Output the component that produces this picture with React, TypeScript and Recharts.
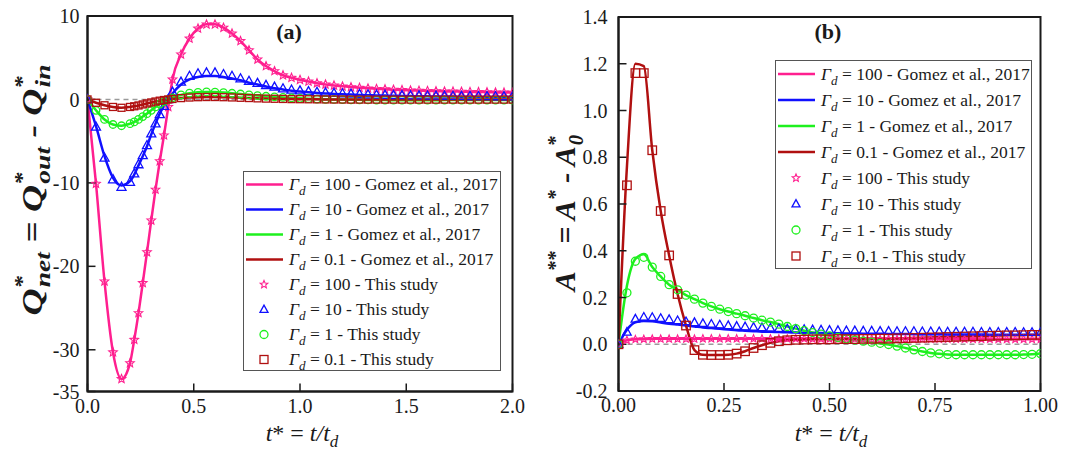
import {
  ComposedChart,
  Line,
  Scatter,
  XAxis,
  YAxis,
  ReferenceLine,
  ReferenceArea,
  Legend,
  Customized,
} from "recharts";

const SERIF = "'Liberation Serif', 'Times New Roman', Times, serif";
const INK = "#1a1a1a";

const PINK = "#ff1f8f";
const BLUE = "#1010ff";
const GREEN = "#1ef01e";
const DARK_RED = "#b01010";

// ---- panel (a): Q*_net against t* ----
const T_A = [
  0, 0.04, 0.08, 0.12, 0.16, 0.2, 0.22, 0.24, 0.26, 0.28, 0.3, 0.32, 0.34, 0.36, 0.38, 0.4,
  0.44, 0.48, 0.52, 0.56, 0.6, 0.64, 0.68, 0.72, 0.76, 0.8, 0.84, 0.88, 0.92, 0.96, 1.0,
  1.04, 1.08, 1.12, 1.16, 1.2, 1.24, 1.28, 1.32, 1.36, 1.4, 1.44, 1.48, 1.52, 1.56, 1.6,
  1.64, 1.68, 1.72, 1.76, 1.8, 1.84, 1.88, 1.92, 1.96, 2.0,
];
// Gomez et al. curves
const Q_G100 = [
  0, -10.1, -21.8, -30.3, -33.5, -31.6, -28.8, -25.6, -22.0, -18.3, -14.5, -10.8, -7.4, -4.3, -0.9, 2.4,
  5.4, 7.3, 8.5, 9.0, 9.0, 8.6, 7.9, 7.0, 5.9, 4.8, 4.0, 3.4, 2.9, 2.6, 2.35,
  2.15, 1.95, 1.8, 1.68, 1.57, 1.48, 1.4, 1.33, 1.27, 1.22, 1.17, 1.13, 1.09, 1.06, 1.03,
  1.0, 0.97, 0.95, 0.93, 0.91, 0.89, 0.87, 0.85, 0.83, 0.82,
];
const Q_G10 = [
  0, -3.2, -6.8, -9.4, -10.3, -9.8, -9.0, -7.9, -6.8, -5.6, -4.2, -2.9, -1.7, -0.8, -0.1, 0.7,
  1.8, 2.4, 2.7, 2.8, 2.8, 2.7, 2.5, 2.3, 2.0, 1.8, 1.55, 1.35, 1.2, 1.05, 0.95,
  0.85, 0.78, 0.72, 0.66, 0.62, 0.58, 0.54, 0.51, 0.48, 0.46, 0.44, 0.42, 0.4, 0.39, 0.37,
  0.36, 0.35, 0.34, 0.33, 0.32, 0.31, 0.3, 0.3, 0.29, 0.28,
];
const Q_G1 = [
  0, -1.3, -2.4, -3.0, -3.15, -2.9, -2.7, -2.4, -2.05, -1.7, -1.3, -0.9, -0.55, -0.25, -0.03, 0.2,
  0.55, 0.75, 0.85, 0.9, 0.88, 0.82, 0.74, 0.65, 0.55, 0.46, 0.38, 0.31, 0.24, 0.18, 0.13,
  0.09, 0.05, 0.02, 0.0, -0.02, -0.04, -0.05, -0.06, -0.07, -0.08, -0.09, -0.09, -0.09, -0.09, -0.09,
  -0.09, -0.08, -0.08, -0.08, -0.08, -0.08, -0.08, -0.08, -0.07, -0.07,
];
const Q_G01 = [
  0, -0.4, -0.7, -0.9, -1.0, -0.9, -0.82, -0.72, -0.6, -0.48, -0.36, -0.25, -0.15, -0.07, 0.0, 0.06,
  0.16, 0.23, 0.27, 0.29, 0.29, 0.27, 0.24, 0.2, 0.17, 0.13, 0.1, 0.08, 0.06, 0.04, 0.03,
  0.02, 0.01, 0.0, -0.01, -0.01, -0.02, -0.02, -0.02, -0.02, -0.02, -0.02, -0.02, -0.02, -0.02, -0.02,
  -0.02, -0.02, -0.02, -0.02, -0.02, -0.02, -0.02, -0.02, -0.02, -0.02,
];
// this study (only Γd = 10 departs visibly from the reference curve)
const Q_S10 = [
  0, -3.3, -7.0, -9.6, -10.5, -9.9, -8.9, -7.8, -6.7, -5.5, -4.1, -2.9, -1.8, -0.8, 0.0, 0.9,
  2.1, 2.8, 3.1, 3.2, 3.2, 3.0, 2.8, 2.5, 2.2, 1.95, 1.7, 1.5, 1.3, 1.15, 1.05,
  0.95, 0.88, 0.8, 0.75, 0.7, 0.66, 0.62, 0.58, 0.55, 0.53, 0.5, 0.48, 0.46, 0.45, 0.43,
  0.42, 0.41, 0.4, 0.39, 0.38, 0.37, 0.36, 0.35, 0.35, 0.34,
];

// ---- panel (b): A** against t* ----
const T_B = [
  0, 0.02, 0.04, 0.06, 0.08, 0.1, 0.12, 0.14, 0.16, 0.18, 0.2, 0.22, 0.24, 0.26, 0.28, 0.3,
  0.32, 0.34, 0.36, 0.38, 0.4, 0.42, 0.44, 0.46, 0.48, 0.5, 0.52, 0.54, 0.56, 0.58, 0.6,
  0.62, 0.64, 0.66, 0.68, 0.7, 0.72, 0.74, 0.76, 0.78, 0.8, 0.82, 0.84, 0.86, 0.88, 0.9,
  0.92, 0.94, 0.96, 0.98, 1.0,
];
const A_G100 = [
  0, 0.017, 0.021, 0.022, 0.023, 0.023, 0.023, 0.023, 0.023, 0.023, 0.024, 0.024, 0.024, 0.024, 0.024, 0.024,
  0.024, 0.024, 0.024, 0.024, 0.024, 0.024, 0.024, 0.023, 0.023, 0.023, 0.023, 0.023, 0.023, 0.023, 0.023,
  0.022, 0.022, 0.022, 0.022, 0.022, 0.022, 0.022, 0.022, 0.022, 0.022, 0.022, 0.022, 0.022, 0.022, 0.021,
  0.021, 0.021, 0.021, 0.021, 0.021,
];
const A_G10 = [
  0, 0.062, 0.094, 0.1, 0.098, 0.093, 0.088, 0.084, 0.08, 0.076, 0.072, 0.069, 0.066, 0.063, 0.06, 0.058,
  0.056, 0.054, 0.053, 0.052, 0.051, 0.05, 0.049, 0.048, 0.048, 0.047, 0.047, 0.046, 0.046, 0.045, 0.045,
  0.045, 0.044, 0.044, 0.044, 0.043, 0.043, 0.043, 0.043, 0.042, 0.042, 0.042, 0.042, 0.042, 0.041, 0.041,
  0.041, 0.041, 0.041, 0.041, 0.041,
];
const A_G1 = [
  0, 0.25, 0.365, 0.385, 0.33, 0.29, 0.255, 0.233, 0.21, 0.193, 0.176, 0.162, 0.15, 0.14, 0.131, 0.122,
  0.112, 0.103, 0.095, 0.086, 0.076, 0.067, 0.058, 0.05, 0.043, 0.036, 0.029, 0.023, 0.018, 0.013, 0.009,
  0.004, -0.001, -0.008, -0.016, -0.024, -0.031, -0.037, -0.041, -0.044, -0.045, -0.045, -0.045, -0.045, -0.045, -0.045,
  -0.045, -0.045, -0.044, -0.043, -0.04,
];
const A_G01 = [
  0, 0.76, 1.2, 1.19, 0.83, 0.57, 0.38, 0.215, 0.08, -0.025, -0.045, -0.046, -0.046, -0.045, -0.04, -0.03,
  -0.016, -0.004, 0.006, 0.013, 0.017, 0.019, 0.02, 0.021, 0.021, 0.021, 0.022, 0.022, 0.022, 0.023, 0.023,
  0.024, 0.024, 0.025, 0.026, 0.027, 0.028, 0.029, 0.03, 0.031, 0.032, 0.033, 0.034, 0.035, 0.036, 0.037,
  0.038, 0.038, 0.039, 0.04, 0.04,
];
const A_S10 = [
  0, 0.052, 0.108, 0.116, 0.115, 0.111, 0.106, 0.101, 0.097, 0.093, 0.089, 0.086, 0.083, 0.08, 0.077, 0.075,
  0.073, 0.071, 0.069, 0.067, 0.066, 0.064, 0.063, 0.062, 0.061, 0.06, 0.059, 0.058, 0.058, 0.057, 0.057,
  0.056, 0.056, 0.055, 0.055, 0.055, 0.054, 0.054, 0.054, 0.053, 0.053, 0.053, 0.053, 0.052, 0.052, 0.052,
  0.052, 0.052, 0.051, 0.051, 0.051,
];
const A_S1 = [
  0, 0.22, 0.355, 0.372, 0.33, 0.29, 0.255, 0.233, 0.21, 0.193, 0.176, 0.162, 0.15, 0.14, 0.131, 0.122,
  0.112, 0.103, 0.095, 0.086, 0.076, 0.067, 0.058, 0.05, 0.043, 0.036, 0.029, 0.023, 0.018, 0.013, 0.009,
  0.004, -0.001, -0.008, -0.016, -0.024, -0.031, -0.037, -0.041, -0.044, -0.045, -0.045, -0.045, -0.045, -0.045, -0.045,
  -0.045, -0.045, -0.044, -0.043, -0.04,
];
const A_S01 = [
  0, 0.68, 1.16, 1.16, 0.83, 0.57, 0.38, 0.215, 0.08, -0.025, -0.045, -0.046, -0.046, -0.045, -0.04, -0.03,
  -0.016, -0.004, 0.006, 0.013, 0.017, 0.019, 0.02, 0.021, 0.021, 0.021, 0.022, 0.022, 0.022, 0.023, 0.023,
  0.024, 0.024, 0.025, 0.026, 0.027, 0.028, 0.029, 0.03, 0.031, 0.032, 0.033, 0.034, 0.035, 0.036, 0.037,
  0.038, 0.038, 0.039, 0.04, 0.04,
];

const GAMMAS = ["100", "10", "1", "0.1"];
const COLORS = [PINK, BLUE, GREEN, DARK_RED];
const MARKS = ["star", "triangle", "circle", "square"] as const;
type MarkKind = (typeof MARKS)[number];

const X_TICKS_A = [0, 0.5, 1, 1.5, 2];
const Y_TICKS_A = [-35, -30, -20, -10, 0, 10];
const X_TICKS_B = [0, 0.25, 0.5, 0.75, 1];
const Y_TICKS_B = [-0.2, 0, 0.2, 0.4, 0.6, 0.8, 1.0, 1.2, 1.4];

type Pt = { t: number; v: number };
const zip = (ts: number[], vs: number[]): Pt[] => ts.map((t, i) => ({ t, v: vs[i] }));

function Marker({ kind, cx, cy, color, size }: { kind: MarkKind; cx: number; cy: number; color: string; size: number }) {
  const sw = 1.3;
  if (kind === "circle") {
    return <circle cx={cx} cy={cy} r={size / 2} fill="none" stroke={color} strokeWidth={sw} />;
  }
  if (kind === "square") {
    return <rect x={cx - size / 2} y={cy - size / 2} width={size} height={size} fill="none" stroke={color} strokeWidth={sw} />;
  }
  if (kind === "triangle") {
    const h = size * 0.9;
    const pts = `${cx},${cy - h * 0.6} ${cx - size / 2},${cy + h * 0.4} ${cx + size / 2},${cy + h * 0.4}`;
    return <polygon points={pts} fill="none" stroke={color} strokeWidth={sw} />;
  }
  // five-point star outline
  const ro = size / 2;
  const ri = ro * 0.45;
  let d = "";
  for (let k = 0; k < 10; k++) {
    const r = k % 2 === 0 ? ro : ri;
    const a = -Math.PI / 2 + (k * Math.PI) / 5;
    d += `${k === 0 ? "M" : "L"}${cx + r * Math.cos(a)},${cy + r * Math.sin(a)}`;
  }
  return <path d={d + "Z"} fill="none" stroke={color} strokeWidth={1.1} />;
}

type Series = { color: string; line: number[]; marks: number[]; kind: MarkKind; size: number };

const SERIES_A: Series[] = [
  { color: PINK, line: Q_G100, marks: Q_G100, kind: "star", size: 9 },
  { color: BLUE, line: Q_G10, marks: Q_S10, kind: "triangle", size: 9 },
  { color: GREEN, line: Q_G1, marks: Q_G1, kind: "circle", size: 7.5 },
  { color: DARK_RED, line: Q_G01, marks: Q_G01, kind: "square", size: 7 },
];

const SERIES_B: Series[] = [
  { color: PINK, line: A_G100, marks: A_G100, kind: "star", size: 8 },
  { color: BLUE, line: A_G10, marks: A_S10, kind: "triangle", size: 8.5 },
  { color: GREEN, line: A_G1, marks: A_S1, kind: "circle", size: 8 },
  { color: DARK_RED, line: A_G01, marks: A_S01, kind: "square", size: 8.5 },
];

function GammaText({ g, src }: { g: string; src: string }) {
  return (
    <span>
      <i>Γ</i>
      <sub style={{ fontStyle: "italic", fontSize: "0.75em", verticalAlign: "-0.35em", lineHeight: 0 }}>d</sub>
      {` = ${g} - ${src}`}
    </span>
  );
}

function LegendBox({ rowH }: { rowH: number }) {
  const rows = [
    ...GAMMAS.map((g, i) => ({ g, src: "Gomez et al., 2017", color: COLORS[i], kind: null as MarkKind | null })),
    ...GAMMAS.map((g, i) => ({ g, src: "This study", color: COLORS[i], kind: MARKS[i] as MarkKind | null })),
  ];
  return (
    <div
      style={{
        width: "100%",
        height: "100%",
        boxSizing: "border-box",
        border: "1px solid #555",
        background: "#fff",
        fontFamily: SERIF,
        fontSize: 17.5,
        color: INK,
      }}
    >
      {rows.map((r, i) => (
        <div key={i} style={{ display: "flex", alignItems: "center", height: rowH, whiteSpace: "nowrap" }}>
          <svg width={45} height={rowH} style={{ flex: "none" }}>
            {r.kind ? (
              <Marker kind={r.kind} cx={20} cy={rowH / 2} color={r.color} size={8} />
            ) : (
              <line x1={2} x2={39} y1={rowH / 2} y2={rowH / 2} stroke={r.color} strokeWidth={2.5} />
            )}
          </svg>
          <GammaText g={r.g} src={r.src} />
        </div>
      ))}
    </div>
  );
}

function TitlesA() {
  return (
    <g fontFamily={SERIF} fill={INK}>
      <text x={289} y={39} textAnchor="middle" fontSize={22} fontWeight="bold">(a)</text>
      <text x={302} y={441} textAnchor="middle" fontSize={24} fontStyle="italic">
        t<tspan fontStyle="normal">* = </tspan>t/t<tspan dy={6} fontSize={17}>d</tspan>
      </text>
      <text
        transform="translate(42,190) rotate(-90) scale(1.25,1)"
        textAnchor="middle"
        fontSize={30}
        fontWeight="bold"
        fontStyle="italic"
      >
        Q<tspan dy={-13} fontSize={20}>*</tspan>
        <tspan dx={-9} dy={21} fontSize={22}>net</tspan>
        <tspan dy={-8}> = Q</tspan>
        <tspan dy={-13} fontSize={20}>*</tspan>
        <tspan dx={-9} dy={21} fontSize={22}>out</tspan>
        <tspan dy={-8}> - Q</tspan>
        <tspan dy={-13} fontSize={20}>*</tspan>
        <tspan dx={-9} dy={21} fontSize={22}>in</tspan>
      </text>
    </g>
  );
}

function TitlesB() {
  return (
    <g fontFamily={SERIF} fill={INK}>
      <text x={298} y={39} textAnchor="middle" fontSize={22} fontWeight="bold">(b)</text>
      <text x={301} y={441} textAnchor="middle" fontSize={24} fontStyle="italic">
        t<tspan fontStyle="normal">* = </tspan>t/t<tspan dy={6} fontSize={17}>d</tspan>
      </text>
      <text transform="translate(45,213) rotate(-90)" textAnchor="middle" fontSize={30} fontWeight="bold" fontStyle="italic">
        A<tspan dy={-13} fontSize={20}>**</tspan>
        <tspan dy={13}> = A</tspan>
        <tspan dy={-13} fontSize={20}>*</tspan>
        <tspan dy={13}> - A</tspan>
        <tspan dy={-13} fontSize={20}>*</tspan>
        <tspan dx={-9} dy={21} fontSize={21}>0</tspan>
      </text>
    </g>
  );
}

const tickStyle = { fill: INK, fontSize: 20, fontFamily: SERIF };

function renderSeries(list: Series[], ts: number[], tag: string) {
  return list.flatMap((s, i) => [
    <Line
      key={`${tag}-l${i}`}
      data={zip(ts, s.line)}
      dataKey="v"
      type="monotone"
      stroke={s.color}
      strokeWidth={2.5}
      dot={false}
      activeDot={false}
      legendType="none"
      isAnimationActive={false}
    />,
    <Scatter
      key={`${tag}-s${i}`}
      data={zip(ts, s.marks)}
      dataKey="v"
      legendType="none"
      isAnimationActive={false}
      shape={(p: any) => <Marker kind={s.kind} cx={p.cx} cy={p.cy} color={s.color} size={s.size} />}
    />,
  ]);
}

export default function App() {
  return (
    <div style={{ position: "absolute", left: 0, top: 0, width: 1065, height: 451, background: "#fff", display: "flex" }}>
      <ComposedChart width={530} height={451} margin={{ top: 16, right: 17.5, bottom: 0, left: 27.5 }}>
        <XAxis
          dataKey="t"
          type="number"
          domain={[0, 2]}
          ticks={X_TICKS_A}
          interval={0}
          allowDataOverflow
          height={59.5}
          tickFormatter={(v: number) => v.toFixed(1)}
          tick={tickStyle}
          tickSize={-8}
          tickMargin={15}
          axisLine={{ stroke: INK, strokeWidth: 2 }}
          tickLine={{ stroke: INK, strokeWidth: 1.5 }}
        />
        <YAxis
          type="number"
          domain={[-35, 10]}
          ticks={Y_TICKS_A}
          interval={0}
          allowDataOverflow
          width={60}
          tick={tickStyle}
          tickSize={-8}
          tickMargin={16}
          axisLine={{ stroke: INK, strokeWidth: 2 }}
          tickLine={{ stroke: INK, strokeWidth: 1.5 }}
        />
        <ReferenceLine y={0} stroke="#9a9a9a" strokeWidth={1.5} strokeDasharray="5 4" />
        {renderSeries(SERIES_A, T_A, "a")}
        <ReferenceArea x1={0} x2={2} y1={-35} y2={10} fill="none" stroke={INK} strokeWidth={2} />
        <Legend
          layout="vertical"
          align="center"
          verticalAlign="middle"
          wrapperStyle={{ left: 243, top: 171, width: 258, height: 200 }}
          content={() => <LegendBox rowH={25} />}
        />
        <Customized component={TitlesA} />
      </ComposedChart>

      <ComposedChart width={535} height={451} margin={{ top: 17, right: 24.5, bottom: 0, left: 28.5 }}>
        <XAxis
          dataKey="t"
          type="number"
          domain={[0, 1]}
          ticks={X_TICKS_B}
          interval={0}
          allowDataOverflow
          height={60}
          tickFormatter={(v: number) => v.toFixed(2)}
          tick={tickStyle}
          tickSize={-8}
          tickMargin={15}
          axisLine={{ stroke: INK, strokeWidth: 2 }}
          tickLine={{ stroke: INK, strokeWidth: 1.5 }}
        />
        <YAxis
          type="number"
          domain={[-0.2, 1.4]}
          ticks={Y_TICKS_B}
          interval={0}
          allowDataOverflow
          width={60}
          tickFormatter={(v: number) => v.toFixed(1)}
          tick={tickStyle}
          tickSize={-8}
          tickMargin={19}
          axisLine={{ stroke: INK, strokeWidth: 2 }}
          tickLine={{ stroke: INK, strokeWidth: 1.5 }}
        />
        <ReferenceLine y={0} stroke="#9a9a9a" strokeWidth={1.5} strokeDasharray="5 4" />
        {renderSeries(SERIES_B, T_B, "b")}
        <ReferenceArea x1={0} x2={1} y1={-0.2} y2={1.4} fill="none" stroke={INK} strokeWidth={2} />
        <Legend
          layout="vertical"
          align="center"
          verticalAlign="middle"
          wrapperStyle={{ left: 245, top: 60, width: 257, height: 209 }}
          content={() => <LegendBox rowH={26} />}
        />
        <Customized component={TitlesB} />
      </ComposedChart>
    </div>
  );
}
